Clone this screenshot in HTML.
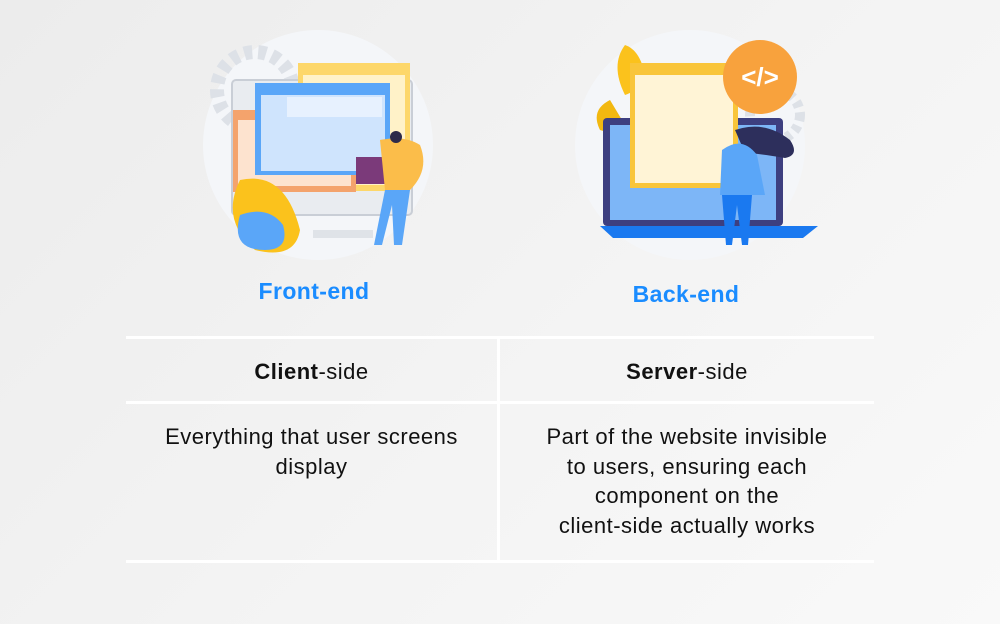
<!DOCTYPE html>
<html><head><meta charset="utf-8"><style>
html,body{margin:0;padding:0}
body{width:1000px;height:624px;position:relative;overflow:hidden;background:linear-gradient(135deg,#ececec 0%,#f3f3f3 50%,#f9f9f9 100%);font-family:"Liberation Sans","DejaVu Sans",sans-serif;color:#111}
.t{position:absolute;text-align:center;font-size:22px;letter-spacing:0.5px;line-height:29.5px}
.h{position:absolute;background:#fff}
.title{position:absolute;font-weight:bold;color:#1a8cff;font-size:23px;letter-spacing:0.4px;text-align:center;width:200px}
</style></head><body>
<svg width="1000" height="330" style="position:absolute;left:0;top:0">
<circle cx="318" cy="145" r="115" fill="#f4f6f9"/>
<circle cx="255" cy="90" r="38" fill="none" stroke="#dde1e7" stroke-width="14" stroke-dasharray="8 6"/>
<rect x="232" y="80" width="180" height="135" rx="4" fill="#e9ecf0" stroke="#c9ced6" stroke-width="2"/>
<rect x="298" y="63" width="112" height="128" fill="#fdd76a"/>
<rect x="303" y="75" width="102" height="110" fill="#fff2c8"/>
<rect x="233" y="110" width="123" height="82" fill="#f4a36c"/>
<rect x="238" y="120" width="113" height="66" fill="#fde3cf"/>
<rect x="255" y="83" width="135" height="92" fill="#5aa6f8"/>
<rect x="261" y="95" width="124" height="76" fill="#cfe4fd"/>
<rect x="287" y="97" width="95" height="20" fill="#e7f1fe"/>
<path d="M313 230 h60 v8 h-60z" fill="#dfe3e8"/>
<path d="M240 180 q-20 40 15 70 q40 10 45 -20 q-15 -60 -60 -50z" fill="#fbc21c"/>
<path d="M240 215 q-10 35 25 35 q25 0 18 -25 q-15 -20 -43 -10z" fill="#5aa6f8"/>
<rect x="356" y="157" width="38" height="27" fill="#7b3a7a"/>
<path d="M380 140 q25 -5 40 5 q10 25 -10 45 h-25z" fill="#fbbd4a"/>
<circle cx="396" cy="137" r="6" fill="#2d2a4a"/>
<path d="M385 190 h25 l-8 55 h-8 l-2 -40 l-10 40 h-8z" fill="#5aa6f8"/>
<circle cx="690" cy="145" r="115" fill="#f4f6f9"/>
<circle cx="775" cy="115" r="25" fill="none" stroke="#dde1e7" stroke-width="10" stroke-dasharray="6 5"/>
<path d="M610 100 q-20 10 -10 30 q15 5 25 -5z" fill="#f2b810"/>
<path d="M625 45 q-15 20 0 50 q15 -5 20 -20 q-5 -25 -20 -30z" fill="#fbc21c"/>
<rect x="603" y="118" width="180" height="108" rx="4" fill="#3d3f80"/>
<rect x="610" y="125" width="166" height="95" fill="#7db6f7"/>
<path d="M600 226 h218 l-15 12 h-190z" fill="#1a79f0"/>
<rect x="630" y="63" width="108" height="125" fill="#f9c53a"/>
<rect x="635" y="75" width="98" height="108" fill="#fff4d6"/>
<circle cx="760" cy="77" r="37" fill="#f8a23d"/>
<text x="760" y="86" text-anchor="middle" font-size="26" fill="#fff" font-family="Liberation Sans" font-weight="bold">&lt;/&gt;</text>
<path d="M735 130 q30 -10 55 10 q10 15 -5 18 q-30 -5 -40 -5z" fill="#2d2f5c"/>
<path d="M722 150 q20 -15 35 5 l8 40 h-45z" fill="#5aa6f8"/>
<path d="M722 195 h30 l-4 50 h-6 l-5 -40 l-5 40 h-6z" fill="#1a79f0"/>
</svg>
<div class="title" style="left:214px;top:278px">Front-end</div>
<div class="title" style="left:586px;top:281px">Back-end</div>
<div class="h" style="left:126px;top:336px;width:748px;height:3px"></div>
<div class="h" style="left:126px;top:401px;width:748px;height:3px"></div>
<div class="h" style="left:126px;top:560px;width:748px;height:3px"></div>
<div class="h" style="left:497px;top:336px;width:3px;height:227px"></div>
<div class="t" style="left:126px;width:371px;top:357px"><b>Client</b>-side</div>
<div class="t" style="left:500px;width:374px;top:357px"><b>Server</b>-side</div>
<div class="t" style="left:126px;width:371px;top:422px">Everything that user screens<br>display</div>
<div class="t" style="left:500px;width:374px;top:422px">Part of the website invisible<br>to users, ensuring each<br>component on the<br>client-side actually works</div>
</body></html>
